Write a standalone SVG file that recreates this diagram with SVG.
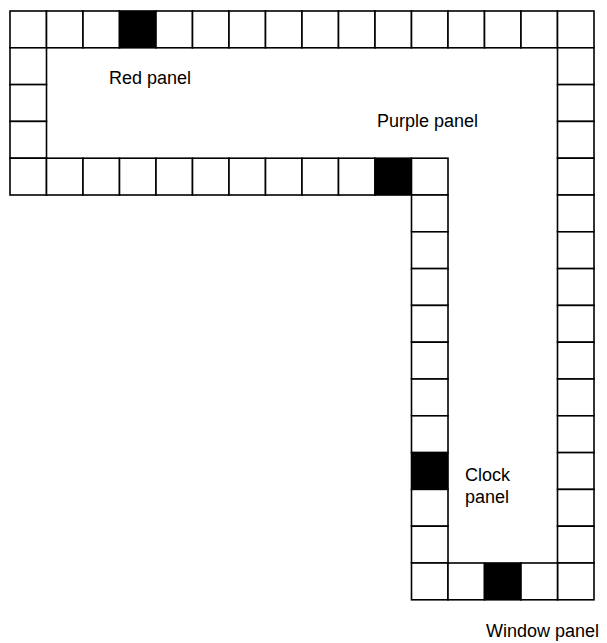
<svg xmlns="http://www.w3.org/2000/svg" xmlns:xlink="http://www.w3.org/1999/xlink" width="607" height="643" viewBox="0 0 607 643">
<style>
.c{fill:#fff;stroke:#000;stroke-width:1.6}
.k{fill:#000;stroke:#000;stroke-width:1.6}
.t{font-family:"Liberation Sans",Arial,sans-serif;font-size:18px;fill:#000}
</style>
<defs>
<rect id="w" width="36.5" height="36.8" class="c"/>
<rect id="b" width="36.5" height="36.8" class="k"/>
</defs>
<rect width="607" height="643" fill="#fff"/>
<g id="top-row">
<use href="#w" x="10" y="11"/><use href="#w" x="46.5" y="11"/><use href="#w" x="83" y="11"/><use href="#b" x="119.5" y="11"/>
<use href="#w" x="156" y="11"/><use href="#w" x="192.5" y="11"/><use href="#w" x="229" y="11"/><use href="#w" x="265.5" y="11"/>
<use href="#w" x="302" y="11"/><use href="#w" x="338.5" y="11"/><use href="#w" x="375" y="11"/><use href="#w" x="411.5" y="11"/>
<use href="#w" x="448" y="11"/><use href="#w" x="484.5" y="11"/><use href="#w" x="521" y="11"/><use href="#w" x="557.5" y="11"/>
</g>
<g id="left-column">
<use href="#w" x="10" y="47.8"/><use href="#w" x="10" y="84.6"/><use href="#w" x="10" y="121.4"/>
</g>
<g id="middle-row">
<use href="#w" x="10" y="158.2"/><use href="#w" x="46.5" y="158.2"/><use href="#w" x="83" y="158.2"/><use href="#w" x="119.5" y="158.2"/>
<use href="#w" x="156" y="158.2"/><use href="#w" x="192.5" y="158.2"/><use href="#w" x="229" y="158.2"/><use href="#w" x="265.5" y="158.2"/>
<use href="#w" x="302" y="158.2"/><use href="#w" x="338.5" y="158.2"/><use href="#b" x="375" y="158.2"/><use href="#w" x="411.5" y="158.2"/>
</g>
<g id="inner-column">
<use href="#w" x="411.5" y="195"/><use href="#w" x="411.5" y="231.8"/><use href="#w" x="411.5" y="268.6"/><use href="#w" x="411.5" y="305.4"/>
<use href="#w" x="411.5" y="342.2"/><use href="#w" x="411.5" y="379"/><use href="#w" x="411.5" y="415.8"/><use href="#b" x="411.5" y="452.6"/>
<use href="#w" x="411.5" y="489.4"/><use href="#w" x="411.5" y="526.2"/><use href="#w" x="411.5" y="563"/>
</g>
<g id="right-column">
<use href="#w" x="557.5" y="47.8"/><use href="#w" x="557.5" y="84.6"/><use href="#w" x="557.5" y="121.4"/><use href="#w" x="557.5" y="158.2"/>
<use href="#w" x="557.5" y="195"/><use href="#w" x="557.5" y="231.8"/><use href="#w" x="557.5" y="268.6"/><use href="#w" x="557.5" y="305.4"/>
<use href="#w" x="557.5" y="342.2"/><use href="#w" x="557.5" y="379"/><use href="#w" x="557.5" y="415.8"/><use href="#w" x="557.5" y="452.6"/>
<use href="#w" x="557.5" y="489.4"/><use href="#w" x="557.5" y="526.2"/><use href="#w" x="557.5" y="563"/>
</g>
<g id="bottom-row">
<use href="#w" x="448" y="563"/><use href="#b" x="484.5" y="563"/><use href="#w" x="521" y="563"/>
</g>
<g id="labels">
<text class="t" x="109" y="84">Red panel</text>
<text class="t" x="377" y="127">Purple panel</text>
<text class="t" x="465" y="481">Clock</text>
<text class="t" x="465" y="503">panel</text>
<text class="t" x="486" y="637">Window panel</text>
</g>
<g id="connectors"></g>
</svg>
